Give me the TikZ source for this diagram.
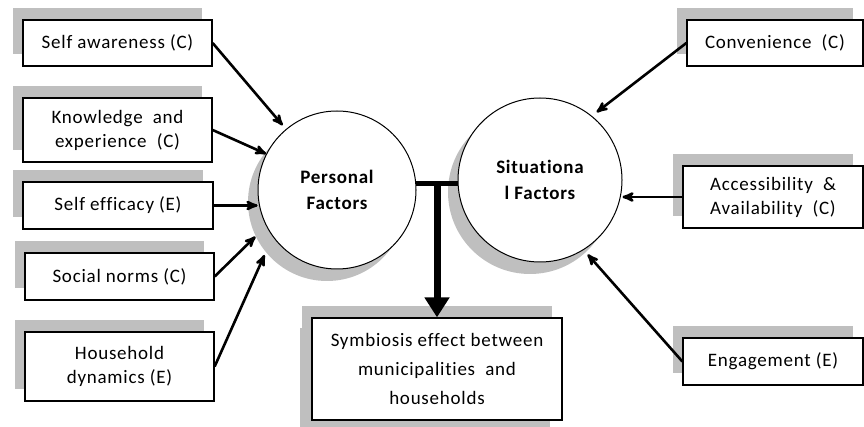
\documentclass[tikz,border=0pt]{standalone}
\usepackage{fontspec}
\setmainfont{Carlito}[Ligatures=NoCommon,LetterSpace=4]
\usetikzlibrary{arrows, arrows.meta, shapes, positioning, calc, shadows}

\begin{document}
\begin{tikzpicture}[->,>=stealth',x=1pt,y=-1pt,
            box/.style={draw,fill=white,line width=1.3pt,align=center,
         inner sep=0pt,font=\fontsize{19}{24}\selectfont,
         drop shadow={shadow xshift=-10pt,shadow yshift=12pt,fill=black!25,opacity=1}},
            factor/.style={circle,draw,fill=white,line width=1pt,align=center,
         inner sep=0pt,minimum size=#1,font=\fontsize{19}{26}\selectfont\bfseries,
         drop shadow={shadow xshift=-10pt,shadow yshift=-12pt,fill=black!25,opacity=1}},
            link/.style={line width=2.6pt}]
            \useasboundingbox (0,0) rectangle (864,427);
            \node [factor=158pt] (pers) at (337,190) {Personal\\Factors};
            \node [factor=164pt] (situ) at (540,180) {Situationa\\l Factors};
            \node [box,minimum width=189pt,minimum height=46pt] (aware) at (117.5,43) {Self awareness (C)};
            \node [box,minimum width=189pt,minimum height=64pt] (knowl) at (117.5,130) {Knowledge~~and\\experience~~(C)};
            \node [box,minimum width=190pt,minimum height=47pt] (effic) at (118,205.5) {Self efficacy (E)};
            \node [box,minimum width=189pt,minimum height=47pt] (norms) at (119.5,276.5) {Social norms (C)};
            \node [box,minimum width=189pt,minimum height=69pt] (house) at (119.5,366.5) {Household\\dynamics (E)};
            \node [box,minimum width=176pt,minimum height=46pt] (conv) at (775,43) {Convenience~~(C)};
            \node [box,minimum width=180pt,minimum height=62pt] (access) at (773,197) {Accessibility~~\&\\Availability~~(C)};
            \node [box,minimum width=180pt,minimum height=47pt] (engage) at (773,361.5) {Engagement (E)};
            \node [box,minimum width=250pt,minimum height=102pt,font=\fontsize{19}{29}\selectfont,
               drop shadow={shadow xshift=-12pt,shadow yshift=-10pt,fill=black!25,opacity=1}]
               (symb) at (437,369) {Symbiosis effect between\\municipalities~~and\\households};
            \draw [link,shorten >=5pt] (aware.east) -- (pers.130);
            \draw [link] (knowl.east) -- (pers.153);
            \draw [link] (effic.east) -- (effic.east -| pers.west);
            \draw [link,shorten >=15pt] (norms.east) -- (pers.207);
            \draw [link,shorten >=20pt] (house.east) -- (pers.216);
            \draw [link,shorten >=6pt] (conv.west) -- (situ.51);
            \draw [link] (access.west) -- (access.west -| situ.east);
            \draw [link,shorten >=6pt] (engage.west) -- (situ.302);
            \draw [-,line width=5pt] (pers.5) -- (pers.5 -| situ.west);
            \draw [-{Triangle[width=24pt,length=20pt]},line width=7pt] (symb.north |- pers.5) -- (symb.north);
         \end{tikzpicture}
\end{document}
